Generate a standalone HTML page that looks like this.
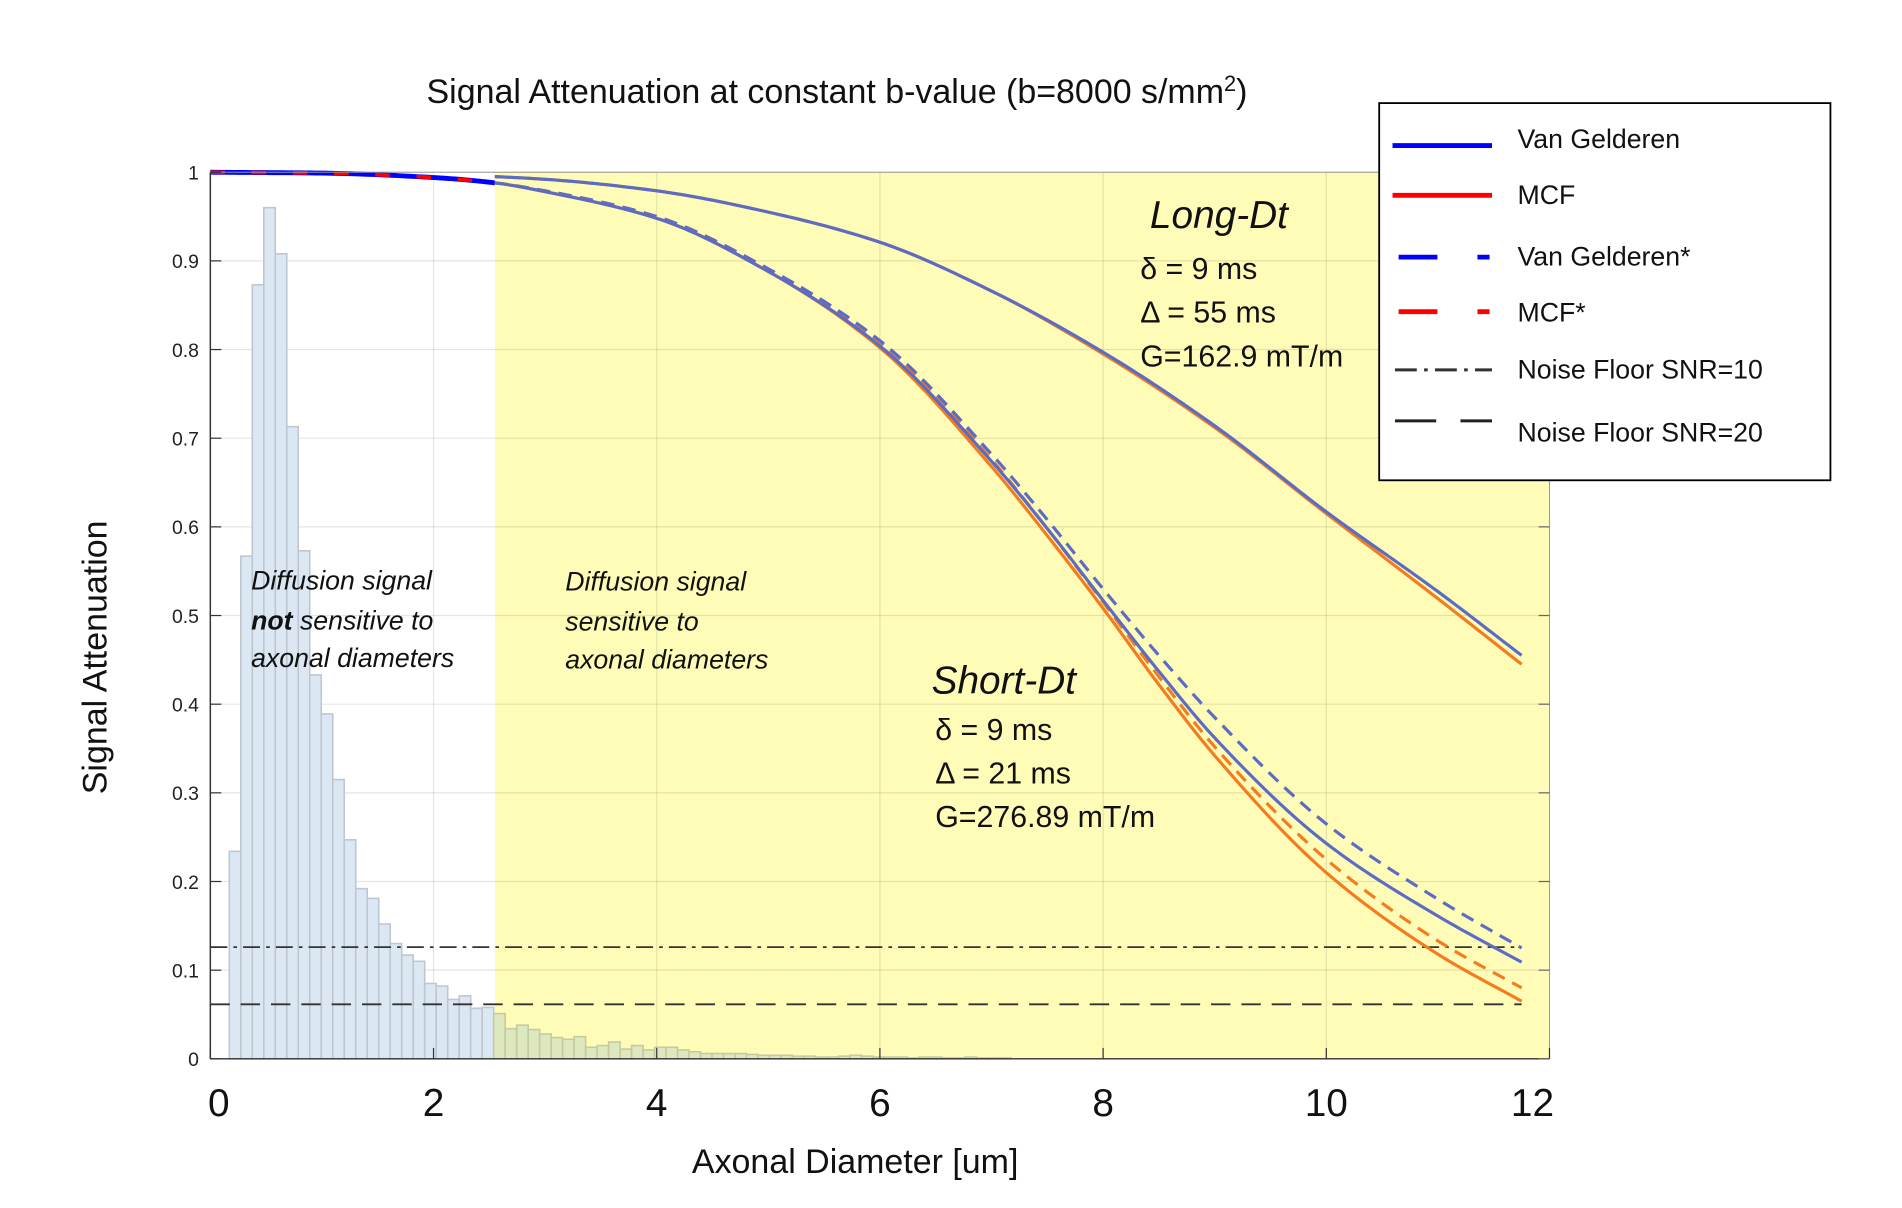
<!DOCTYPE html>
<html><head><meta charset="utf-8"><title>Signal Attenuation</title>
<style>html,body{margin:0;padding:0;background:#fff}svg{display:block}text{font-family:"Liberation Sans","DejaVu Sans",sans-serif}</style></head>
<body>
<svg id="chart" width="1902" height="1208" viewBox="0 0 1568 996" preserveAspectRatio="none" xmlns="http://www.w3.org/2000/svg">
<defs>
<clipPath id="clipL"><rect x="150" y="100" width="257.9" height="800"/></clipPath>
<clipPath id="clipR"><rect x="407.9" y="100" width="900" height="800"/></clipPath>
</defs>
<g id="bg"></g>
<g id="hist"></g>
<g id="lines"></g>
<g id="curves"></g>
<g id="axes"></g>
<text x="690" y="85" font-size="28" text-anchor="middle" fill="#111">Signal Attenuation at constant b-value (b=8000 s/mm<tspan font-size="18" dy="-10">2</tspan><tspan dy="10">)</tspan></text>
<text transform="translate(88,542) rotate(-90)" font-size="28" text-anchor="middle" fill="#111">Signal Attenuation</text>
<text x="705" y="967" font-size="28" text-anchor="middle" fill="#111">Axonal Diameter [um]</text>
<g font-size="22" font-style="italic" fill="#111">
<text x="207" y="486">Diffusion signal</text>
<text x="207" y="519"><tspan font-weight="bold">not</tspan> sensitive to</text>
<text x="207" y="550">axonal diameters</text>
</g>
<g font-size="22" font-style="italic" fill="#111">
<text x="466" y="487">Diffusion signal</text>
<text x="466" y="520">sensitive to</text>
<text x="466" y="551">axonal diameters</text>
</g>
<g fill="#111">
<text x="948" y="188" font-size="32" font-style="italic">Long-Dt</text>
<text x="940" y="230" font-size="25">δ = 9 ms</text>
<text x="940" y="266" font-size="25">Δ = 55 ms</text>
<text x="940" y="302" font-size="25">G=162.9 mT/m</text>
</g>
<g fill="#111">
<text x="768" y="572" font-size="32" font-style="italic">Short-Dt</text>
<text x="771" y="610" font-size="25">δ = 9 ms</text>
<text x="771" y="646" font-size="25">Δ = 21 ms</text>
<text x="771" y="682" font-size="25">G=276.89 mT/m</text>
</g>
<g>
<rect x="1137" y="85" width="372" height="311" fill="#fff" stroke="#000" stroke-width="1.5"/>
<line x1="1148" y1="120" x2="1230" y2="120" stroke="#0000ff" stroke-width="4"/>
<text x="1251" y="122" font-size="22" fill="#111">Van Gelderen</text>
<line x1="1148" y1="161" x2="1230" y2="161" stroke="#ff0000" stroke-width="4"/>
<text x="1251" y="168" font-size="22" fill="#111">MCF</text>
<line x1="1153" y1="212" x2="1228" y2="212" stroke="#0000ff" stroke-width="4" stroke-dasharray="32,33"/>
<text x="1251" y="219" font-size="22" fill="#111">Van Gelderen*</text>
<line x1="1153" y1="257" x2="1228" y2="257" stroke="#ff0000" stroke-width="4" stroke-dasharray="32,33"/>
<text x="1251" y="265" font-size="22" fill="#111">MCF*</text>
<line x1="1150" y1="305" x2="1230" y2="305" stroke="#333" stroke-width="2.5" stroke-dasharray="18,6,3,6"/>
<text x="1251" y="312" font-size="22" fill="#111">Noise Floor SNR=10</text>
<line x1="1150" y1="347" x2="1230" y2="347" stroke="#222" stroke-width="2.5" stroke-dasharray="34,20"/>
<text x="1251" y="364" font-size="22" fill="#111">Noise Floor SNR=20</text>
</g>
</svg>
<script>
const xTicks = [0, 2, 4, 6, 8, 10, 12];
const yTicks = [0, 0.1, 0.2, 0.3, 0.4, 0.5, 0.6, 0.7, 0.8, 0.9, 1];
const yTickLabels = ["0","0.1","0.2","0.3","0.4","0.5","0.6","0.7","0.8","0.9","1"];
const sensitiveStart = 2.55;
const histStart = 0.17;
const histBinWidth = 0.103;
const histValues = [0.234,0.567,0.873,0.96,0.908,0.713,0.573,0.433,0.389,0.315,0.247,0.192,0.181,0.152,0.130,0.117,0.110,0.085,0.082,0.067,0.071,0.057,0.058,
 0.051,0.034,0.038,0.033,0.028,0.024,0.022,0.025,0.013,0.015,0.019,0.011,0.015,0.010,0.013,0.013,0.010,0.008,0.006,0.006,0.006,0.006,0.005,0.004,0.004,0.004,0.003,0.003,0.002,0.002,0.003,0.004,0.003,0.002,0.002,0.002,0.001,0.002,0.002,0.001,0.001,0.002,0.001,0.001,0.001];
const longX = [0,1,2,2.55,3,4,5,6,7,8,9,10,11,11.75];
const longVG = [1,0.9995,0.997,0.995,0.992,0.979,0.955,0.921,0.866,0.797,0.714,0.617,0.527,0.455];
const longMCF = [1,0.9995,0.997,0.995,0.992,0.979,0.955,0.921,0.866,0.795,0.712,0.615,0.519,0.445];
const shortX = [0,1,2,2.55,3,4,5,6,7,7.5,8,8.5,9,10,11,11.75];
const shortVG = [1,0.999,0.994,0.988,0.978,0.948,0.888,0.804,0.674,0.598,0.517,0.437,0.362,0.243,0.161,0.109];
const shortVGstar = [1,0.999,0.994,0.988,0.979,0.95,0.891,0.81,0.682,0.608,0.53,0.455,0.385,0.265,0.18,0.125];
const shortMCF = [1,0.999,0.994,0.988,0.978,0.948,0.888,0.802,0.668,0.59,0.508,0.422,0.342,0.21,0.118,0.065];
const shortMCFstar = [1,0.999,0.994,0.988,0.979,0.95,0.891,0.808,0.676,0.598,0.515,0.431,0.352,0.225,0.133,0.08];
const noiseSNR10 = 0.126;
const noiseSNR20 = 0.0615;
const noiseEnd = 11.75;

const X0 = 173.4, XU = 92, Y0 = 873, YU = 731;
function sx(v){ return X0 + v * XU; }
function sy(v){ return Y0 - v * YU; }
const NS = "http://www.w3.org/2000/svg";
function mk(tag, attrs, parent){
  const e = document.createElementNS(NS, tag);
  for (const k in attrs) e.setAttribute(k, attrs[k]);
  parent.appendChild(e); return e;
}
const bg = document.getElementById('bg');
const hist = document.getElementById('hist');
const lines = document.getElementById('lines');
const curves = document.getElementById('curves');
const axes = document.getElementById('axes');

const yellow = mk('rect', {x: sx(sensitiveStart), y: sy(1), width: sx(12) - sx(sensitiveStart), height: sy(0) - sy(1), fill: '#fffcb8'}, bg);



xTicks.forEach(t => {
  const g = mk('line', {x1: sx(t), x2: sx(t), y1: sy(1), y2: sy(0), stroke: '#000', 'stroke-opacity': 0.1, 'stroke-width': 1}, bg);
  
  
});
yTicks.forEach(t => {
  const g = mk('line', {x1: sx(0), x2: sx(12), y1: sy(t), y2: sy(t), stroke: '#000', 'stroke-opacity': 0.1, 'stroke-width': 1}, bg);
  
  
});

histValues.forEach((v, i) => {
  const left = histStart + i * histBinWidth;
  const inYellow = left >= sensitiveStart - 0.02;
  const b = mk('rect', {x: sx(left), y: sy(v), width: histBinWidth * XU, height: sy(0) - sy(v),
    fill: inYellow ? '#dde8be' : '#dbe7f3', stroke: inYellow ? '#c4cb9e' : '#bfc6cf', 'stroke-width': 1.3}, hist);
  
  
});

const n10 = mk('line', {x1: sx(0), x2: sx(noiseEnd), y1: sy(noiseSNR10), y2: sy(noiseSNR10), stroke: '#333', 'stroke-width': 1.5, 'stroke-dasharray': '14,5,3,5'}, lines);


const n20 = mk('line', {x1: sx(0), x2: sx(noiseEnd), y1: sy(noiseSNR20), y2: sy(noiseSNR20), stroke: '#333', 'stroke-width': 1.5, 'stroke-dasharray': '16,9'}, lines);



function pathD(xs, ys){
  const n = xs.length, d = [], m = new Array(n);
  for (let i = 0; i < n - 1; i++) d.push((ys[i+1] - ys[i]) / (xs[i+1] - xs[i]));
  m[0] = d[0]; m[n-1] = d[n-2];
  for (let i = 1; i < n - 1; i++){
    if (d[i-1] * d[i] <= 0) m[i] = 0;
    else {
      const h0 = xs[i] - xs[i-1], h1 = xs[i+1] - xs[i];
      const w1 = 2*h1 + h0, w2 = h1 + 2*h0;
      m[i] = (w1 + w2) / (w1 / d[i-1] + w2 / d[i]);
    }
  }
  let s = '';
  for (let i = 0; i < n - 1; i++){
    const h = xs[i+1] - xs[i];
    for (let k = (i === 0 ? 0 : 1); k <= 20; k++){
      const t = k / 20, t2 = t*t, t3 = t2*t;
      const y = (2*t3 - 3*t2 + 1)*ys[i] + (t3 - 2*t2 + t)*h*m[i] + (-2*t3 + 3*t2)*ys[i+1] + (t3 - t2)*h*m[i+1];
      const x = xs[i] + t*h;
      s += (s ? ' L' : 'M') + sx(x).toFixed(2) + ',' + sy(y).toFixed(2);
    }
  }
  return s;
}
function curve(xs, ys, color, dash, width, clip, name){
  const a = {d: pathD(xs, ys), fill: 'none', stroke: color, 'stroke-width': width, 'clip-path': 'url(#' + clip + ')', 'stroke-linejoin': 'round'};
  if (dash) a['stroke-dasharray'] = dash;
  const e = mk('path', a, curves);
  
  
}
curve(shortX, shortVG, '#0000ff', null, 4, 'clipL', 'van-gelderen-curve-left');
curve(shortX, shortMCFstar, '#ff0000', '12,22', 3, 'clipL', 'mcf-star-curve-left');
curve(longX, longMCF, '#f47b20', null, 2.6, 'clipR', 'long-dt-mcf-curve');
curve(longX, longVG, '#5b6cc4', null, 2.6, 'clipR', 'long-dt-van-gelderen-curve');
curve(shortX, shortMCFstar, '#f47b20', '11,7', 2.6, 'clipR', 'short-dt-mcf-star-curve');
curve(shortX, shortVGstar, '#5b6cc4', '11,7', 2.6, 'clipR', 'short-dt-van-gelderen-star-curve');
curve(shortX, shortMCF, '#f47b20', null, 2.6, 'clipR', 'short-dt-mcf-curve');
curve(shortX, shortVG, '#5b6cc4', null, 2.6, 'clipR', 'short-dt-van-gelderen-curve');

const frame = mk('rect', {x: sx(0), y: sy(1), width: sx(12) - sx(0), height: sy(0) - sy(1), fill: 'none', stroke: '#999', 'stroke-width': 0.8}, axes);


const yl = mk('line', {x1: sx(0), x2: sx(0), y1: sy(1), y2: sy(0), stroke: '#333', 'stroke-width': 1.2}, axes);


const xl = mk('line', {x1: sx(0), x2: sx(12), y1: sy(0), y2: sy(0), stroke: '#333', 'stroke-width': 1.2}, axes);



xTicks.forEach(t => {
  const tk = mk('line', {x1: sx(t), x2: sx(t), y1: sy(0), y2: sy(0) - 9, stroke: '#333', 'stroke-width': 1}, axes);
  
  
  const lb = mk('text', {x: sx(t) + (t === 0 ? 7 : (t === 12 ? -14 : 0)), y: 920, 'font-size': 32, 'text-anchor': 'middle', fill: '#111'}, axes);
  lb.textContent = String(t);
  
  
});
yTicks.forEach((t, i) => {
  const tk = mk('line', {x1: sx(0), x2: sx(0) + 9, y1: sy(t), y2: sy(t), stroke: '#333', 'stroke-width': 1}, axes);
  
  
  const tr = mk('line', {x1: sx(12), x2: sx(12) - 9, y1: sy(t), y2: sy(t), stroke: '#666', 'stroke-width': 1}, axes);
  
  
  const lb = mk('text', {x: 164, y: sy(t) + 6, 'font-size': 16, 'text-anchor': 'end', fill: '#222'}, axes);
  lb.textContent = yTickLabels[i];
  
  
});
</script>
</body></html>
